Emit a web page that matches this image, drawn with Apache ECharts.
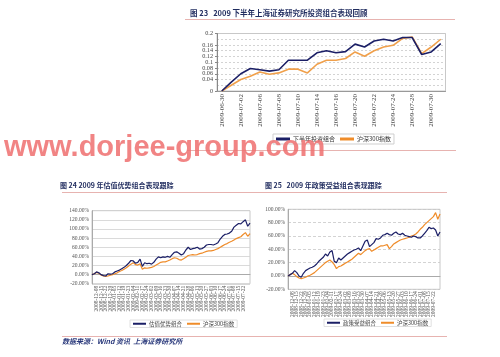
<!DOCTYPE html>
<html><head><meta charset="utf-8">
<script src="https://cdn.jsdelivr.net/npm/echarts@6/dist/echarts.min.js"></script>
<style>html,body{margin:0;padding:0;background:#fff}#c{width:500px;height:357px}</style>
</head><body><div id="c"></div>
<script>
// ---- Figure 23 data ----
const topDates = ['2009-06-30','2009-07-01','2009-07-02','2009-07-03','2009-07-06','2009-07-07','2009-07-08','2009-07-09','2009-07-10','2009-07-13','2009-07-14','2009-07-15','2009-07-16','2009-07-17','2009-07-20','2009-07-21','2009-07-22','2009-07-23','2009-07-24','2009-07-27','2009-07-28','2009-07-29','2009-07-30','2009-07-31'];
const topPortfolio = [0,0.031,0.060,0.078,0.074,0.069,0.074,0.107,0.107,0.107,0.133,0.140,0.133,0.137,0.163,0.153,0.174,0.180,0.174,0.186,0.186,0.127,0.136,0.165];
const topCsi300 = [0,0.020,0.040,0.051,0.066,0.058,0.063,0.076,0.076,0.063,0.093,0.107,0.107,0.113,0.136,0.121,0.140,0.153,0.159,0.183,0.188,0.130,0.153,0.180];
const topYTicks = {min:0,max:0.2,interval:0.02};

// ---- Figures 24 / 25 data ----
const bottomDates = ['2008-12-01','2008-12-04','2008-12-08','2008-12-10','2008-12-15','2008-12-17','2008-12-22','2008-12-24','2008-12-29','2008-12-31',
'2009-01-05','2009-01-08','2009-01-12','2009-01-14','2009-01-19','2009-01-21','2009-01-23',
'2009-02-02','2009-02-04','2009-02-09','2009-02-11','2009-02-13','2009-02-17','2009-02-19','2009-02-24','2009-02-26',
'2009-03-02','2009-03-04','2009-03-09','2009-03-11','2009-03-16','2009-03-18','2009-03-23','2009-03-25','2009-03-30',
'2009-04-01','2009-04-07','2009-04-09','2009-04-14','2009-04-16','2009-04-21','2009-04-23','2009-04-28',
'2009-05-04','2009-05-06','2009-05-11','2009-05-13','2009-05-18','2009-05-20','2009-05-25','2009-05-27',
'2009-06-01','2009-06-03','2009-06-08','2009-06-10','2009-06-15','2009-06-17','2009-06-22','2009-06-24','2009-06-29',
'2009-07-01','2009-07-06','2009-07-08','2009-07-13','2009-07-15','2009-07-20','2009-07-22','2009-07-27','2009-07-29','2009-07-31'];
const valuePortfolio = [0,2,6,4,0,-2,-3,2,1,2,6,8,10,13,16,20,25,31,30,25,27,34,18,26,24,25,23,27,34,39,37,39,38,40,38,44,49,50,47,43,46,54,60,55,57,58,60,56,57,60,65,66,66,65,67,70,78,84,88,89,91,95,104,108,112,111,116,120,106,113];
const valueCsi300 = [0,2,5,3,-1,-3,-4,-3,-1,0,2,4,7,9,12,15,19,23,26,22,21,24,12,15,14,15,16,18,21,24,27,28,28,30,32,35,37,36,33,32,35,38,42,43,44,43,44,46,47,49,51,52,52,53,55,57,60,63,66,68,71,73,76,79,81,83,88,92,84,90];
const policyPortfolio = [0,2,4,8,5,0,-2,4,8,10,12,13,15,18,22,25,28,33,30,36,38,22,20,27,24,27,30,33,35,37,39,40,42,38,45,52,54,44,47,50,56,55,57,61,62,64,62,61,64,66,63,62,64,61,60,59,58,60,59,57,57,60,64,68,73,71,72,69,60,66];
const policyCsi300 = [0,2,4,2,-1,-3,-4,-3,-2,0,1,3,5,8,11,14,17,20,22,24,21,17,11,14,15,17,19,21,23,25,28,31,34,32,35,38,40,41,37,39,41,43,45,45,46,47,41,44,48,50,52,54,55,56,57,58,60,61,63,66,70,73,77,80,83,86,89,95,85,93];
const leftYTicks = {min:-20,max:140,interval:20};
const rightYTicks = {min:-20,max:100,interval:20};

const NAVY = '#1b1f66', ORANGE = '#ef8c2a';
const SERIF = 'Liberation Serif';
const CJK = 'Noto Sans CJK SC';
const TITLE_COLOR = '#1f2b5e';
const RULE = '#e7b3b0';

const chart = echarts.init(document.getElementById('c'), null, {renderer:'canvas'});

function pct(v){ return v.toFixed(2) + '%'; }
const lineStyle = (c,w)=>({color:c,width:w});

const option = {
  animation:false,
  backgroundColor:'#fff',
  grid:[
    {left:217, top:33.5, width:228.5, height:57.5, show:true, borderColor:'#c8c8c8', borderWidth:1},
    {left:92, top:210.7, width:158, height:73.1, show:true, borderColor:'#c8c8c8', borderWidth:1},
    {left:288, top:209.3, width:152, height:80, show:true, borderColor:'#c8c8c8', borderWidth:1}
  ],
  xAxis:[
    {gridIndex:0, type:'category', data:topDates, boundaryGap:true,
     axisLine:{show:true, lineStyle:{color:'#999'}}, axisTick:{show:false},
     axisLabel:{interval:1, rotate:90, fontSize:7, fontFamily:SERIF, color:'#444', margin:3}},
    {gridIndex:1, type:'category', data:bottomDates, boundaryGap:false,
     axisLine:{show:true, lineStyle:{color:'#aaa'}}, axisTick:{show:false},
     axisLabel:{interval:1, rotate:90, fontSize:5.5, fontFamily:SERIF, color:'#555', margin:2}},
    {gridIndex:2, type:'category', data:bottomDates, boundaryGap:false,
     axisLine:{show:true, lineStyle:{color:'#aaa'}}, axisTick:{show:false},
     axisLabel:{interval:1, rotate:90, fontSize:5.5, fontFamily:SERIF, color:'#555', margin:2}}
  ],
  yAxis:[
    {gridIndex:0, type:'value', min:topYTicks.min, max:topYTicks.max, interval:topYTicks.interval,
     axisLine:{show:true, lineStyle:{color:'#888'}}, axisTick:{show:true, length:2, lineStyle:{color:'#888'}},
     axisLabel:{fontSize:6.2, lineHeight:5.5, fontFamily:SERIF, color:'#444', margin:4, showMinLabel:true, showMaxLabel:true, hideOverlap:false,
       formatter:v=>String(+v.toFixed(2))},
     splitLine:{show:true, lineStyle:{color:'#c8c8c8', type:[2,2], width:0.8}}},
    {gridIndex:1, type:'value', min:leftYTicks.min, max:leftYTicks.max, interval:leftYTicks.interval,
     axisLine:{show:true, lineStyle:{color:'#aaa'}}, axisTick:{show:false},
     axisLabel:{fontSize:5.5, fontFamily:SERIF, color:'#555', margin:3, showMinLabel:true, showMaxLabel:true, formatter:pct},
     splitLine:{show:true, lineStyle:{color:'#d0d0d0', width:0.8}}},
    {gridIndex:2, type:'value', min:rightYTicks.min, max:rightYTicks.max, interval:rightYTicks.interval,
     axisLine:{show:true, lineStyle:{color:'#aaa'}}, axisTick:{show:false},
     axisLabel:{fontSize:5.5, fontFamily:SERIF, color:'#555', margin:3, showMinLabel:true, showMaxLabel:true, formatter:pct},
     splitLine:{show:true, lineStyle:{color:'#c8c8c8', type:[3,2], width:0.8}}}
  ],
  legend:[
    {left:273, top:134, itemWidth:14, itemHeight:3, icon:'rect', itemGap:5,
     padding:[2,3], borderColor:'#cfcfcf', borderWidth:1,
     textStyle:{fontSize:6, fontFamily:CJK, color:'#333', padding:[0,0,0,-2]},
     data:[{name:'下半年投资组合', itemStyle:{color:NAVY}},{name:'沪深300指数', itemStyle:{color:ORANGE}}]},
    {left:130, top:320, itemWidth:13, itemHeight:2, icon:'rect', itemGap:5,
     padding:[1,3], borderColor:'#e0e0e0', borderWidth:1,
     textStyle:{fontSize:5.5, fontFamily:CJK, color:'#444', padding:[0,0,0,-2]},
     data:[{name:'估值优势组合', itemStyle:{color:NAVY}},{name:'沪深300指数', itemStyle:{color:ORANGE}}]},
    {left:324, top:319, itemWidth:13, itemHeight:2, icon:'rect', itemGap:5,
     padding:[1,3], borderColor:'#e0e0e0', borderWidth:1,
     textStyle:{fontSize:5.5, fontFamily:CJK, color:'#444', padding:[0,0,0,-2]},
     data:[{name:'政策受益组合', itemStyle:{color:NAVY}},{name:'沪深300指数', itemStyle:{color:ORANGE}}]}
  ],
  series:[
    {name:'下半年投资组合', type:'line', xAxisIndex:0, yAxisIndex:0, data:topPortfolio, showSymbol:false, lineStyle:lineStyle(NAVY,1.6), itemStyle:{color:NAVY}, z:3},
    {name:'沪深300指数', type:'line', xAxisIndex:0, yAxisIndex:0, data:topCsi300, showSymbol:false, lineStyle:lineStyle('#f0a04b',1.6), itemStyle:{color:ORANGE}, z:2},
    {name:'估值优势组合', type:'line', xAxisIndex:1, yAxisIndex:1, data:valuePortfolio, showSymbol:false, lineStyle:lineStyle(NAVY,1.2), itemStyle:{color:NAVY}, z:3},
    {name:'沪深300指数', type:'line', xAxisIndex:1, yAxisIndex:1, data:valueCsi300, showSymbol:false, lineStyle:lineStyle(ORANGE,1.2), itemStyle:{color:ORANGE}, z:2},
    {name:'政策受益组合', type:'line', xAxisIndex:2, yAxisIndex:2, data:policyPortfolio, showSymbol:false, lineStyle:lineStyle(NAVY,1.2), itemStyle:{color:NAVY}, z:3},
    {name:'沪深300指数', type:'line', xAxisIndex:2, yAxisIndex:2, data:policyCsi300, showSymbol:false, lineStyle:lineStyle(ORANGE,1.2), itemStyle:{color:ORANGE}, z:2}
  ],
  graphic:[
    {type:'text', left:190, top:9, style:{text:'图 23   2009 下半年上海证券研究所投资组合表现回顾', font:'bold 7.5px "Noto Sans CJK SC"', fill:TITLE_COLOR}},
    {type:'line', shape:{x1:185,y1:19.5,x2:455,y2:19.5}, style:{stroke:RULE, lineWidth:1}},
    {type:'line', shape:{x1:187,y1:150.5,x2:456,y2:150.5}, style:{stroke:RULE, lineWidth:1}},
    {type:'text', left:60, top:182, style:{text:'图 24 2009 年估值优势组合表现跟踪', font:'bold 7px "Noto Sans CJK SC"', fill:TITLE_COLOR}},
    {type:'text', left:265, top:182, style:{text:'图 25   2009 年政策受益组合表现跟踪', font:'bold 7px "Noto Sans CJK SC"', fill:TITLE_COLOR}},
    {type:'line', shape:{x1:62,y1:192.5,x2:447,y2:192.5}, style:{stroke:RULE, lineWidth:1}},
    {type:'line', shape:{x1:62,y1:336.5,x2:447,y2:336.5}, style:{stroke:RULE, lineWidth:1}},
    {type:'text', left:62, top:338, style:{text:'数据来源：Wind 资讯  上海证券研究所', font:'italic bold 7px "Noto Sans CJK SC"', fill:'#2b3a7c'}},
    {type:'text', left:4, top:133, z:100, style:{text:'www.dorjee-group.com', font:'bold 29px "Liberation Sans"', fill:'rgba(238,110,110,0.85)'}}
  ]
};
chart.setOption(option);
</script>
</body></html>
